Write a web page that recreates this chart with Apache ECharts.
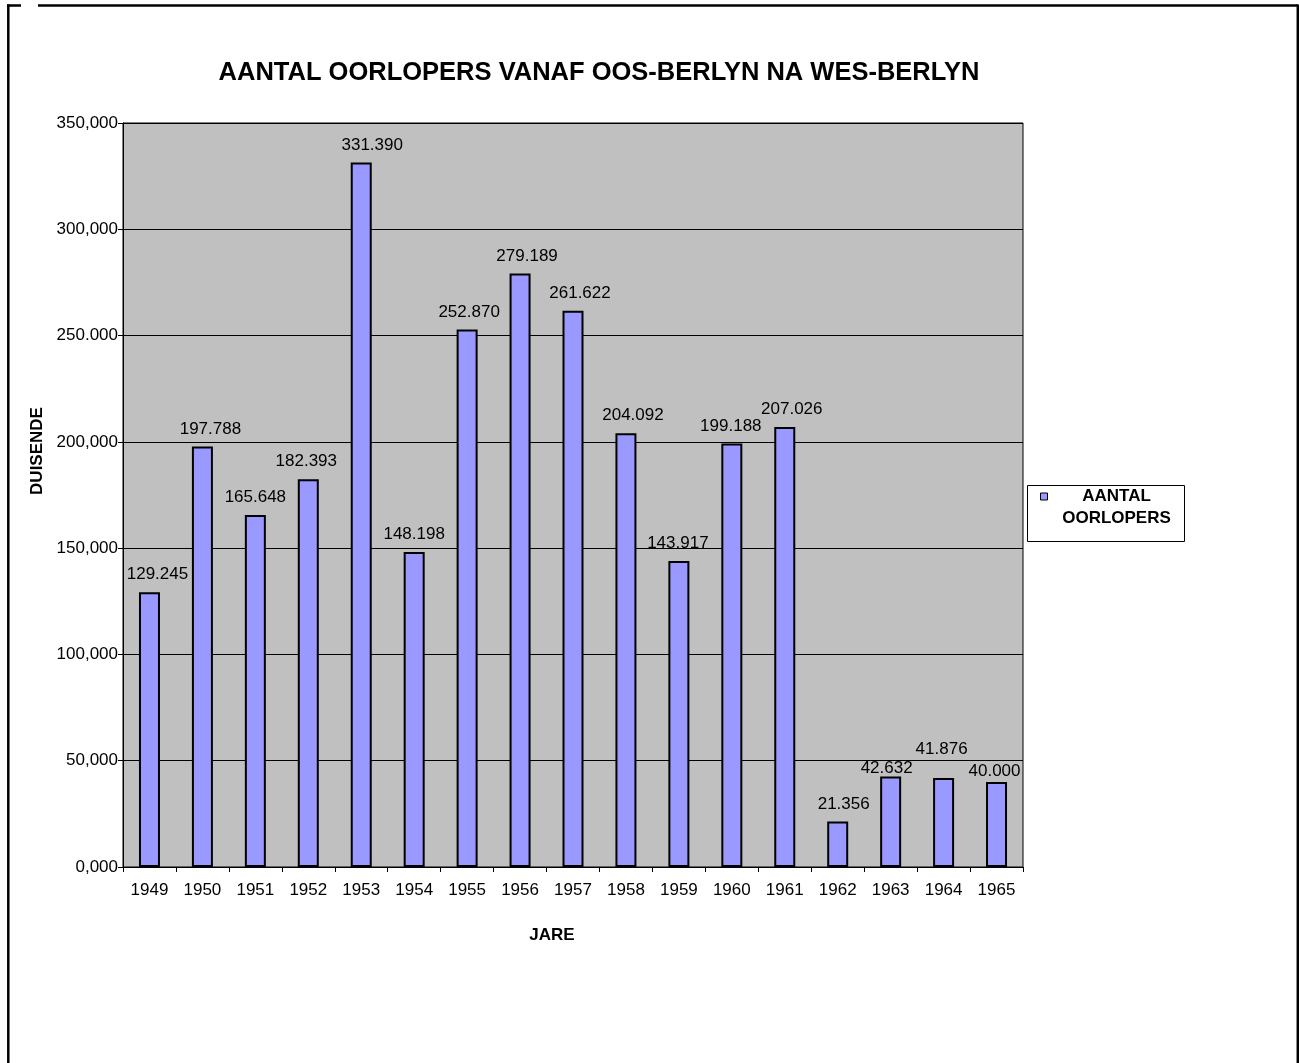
<!DOCTYPE html>
<html>
<head>
<meta charset="utf-8">
<script src="https://cdn.jsdelivr.net/npm/echarts@6/dist/echarts.min.js"></script>
<style>
  html, body { margin: 0; padding: 0; background: #fff; }
  #chart { width: 1299px; height: 1063px; }
</style>
</head>
<body>
<div id="chart"></div>
<script>
// Data
const years = ['1949', '1950', '1951', '1952', '1953', '1954', '1955', '1956', '1957',
    '1958', '1959', '1960', '1961', '1962', '1963', '1964', '1965'];
const defectors = [129245, 197788, 165648, 182393, 331390, 148198, 252870, 279189, 261622,
    204092, 143917, 199188, 207026, 21356, 42632, 41876, 40000];
const yTickLabels = ['0,000', '50,000', '100,000', '150,000', '200,000', '250.000', '300,000', '350,000'];

// Excel labels were nudged by hand, [dx, dy] in px
const labelShift = [[8, 0], [8, 0], [0, 0], [-2, 0], [11, 0], [0, 0], [2, 0], [7, 0], [7, 0],
    [7, 0], [-1, 0], [-1, 0], [7, 0], [6, 0], [-4, 9], [-2, -11], [-2, 7]];

const FONT = '"Liberation Sans", Arial, sans-serif';

function fmtThousands(v) {
    let hi = Math.floor(v / 1000);
    let lo = String(v % 1000).padStart(3, '0');
    return hi + '.' + lo;
}

const chart = echarts.init(document.getElementById('chart'));

let option = {
    backgroundColor: '#fff',
    animation: false,
    textStyle: { fontFamily: FONT },
    title: {
        text: 'AANTAL OORLOPERS VANAF OOS-BERLYN NA WES-BERLYN',
        left: 594,
        top: 55,
        textAlign: 'center',
        textStyle: { fontFamily: FONT, fontSize: 25.5, fontWeight: 'bold', color: '#000' },
    },
    grid: {
        left: 123,
        right: 276,
        top: 123,
        bottom: 196,
        show: true,
        backgroundColor: '#C0C0C0',
        borderColor: '#000',
        borderWidth: 1,
    },
    legend: {
        left: 1040,
        top: 488,
        padding: 0,
        icon: 'rect',
        itemWidth: 7,
        itemHeight: 7,
        itemStyle: { color: '#9999FF', borderColor: '#000', borderWidth: 1 },
        formatter: function () {
            return '{a|AANTAL}\n{a|OORLOPERS}';
        },
        textStyle: {
            padding: [22, 0, 0, 0],
            rich: {
                a: {
                    width: 128,
                    align: 'center',
                    fontFamily: FONT,
                    fontSize: 17,
                    fontWeight: 'bold',
                    lineHeight: 22,
                    color: '#000',
                },
            },
        },
    },
    xAxis: {
        type: 'category',
        data: years,
        name: 'JARE',
        nameLocation: 'middle',
        nameGap: 60,
        nameTextStyle: { fontFamily: FONT, fontSize: 17, fontWeight: 'bold', color: '#000', padding: [0, 42, 0, 0] },
        axisLine: { lineStyle: { color: '#000', width: 1 } },
        axisTick: { show: true, length: 5, lineStyle: { color: '#000' } },
        axisLabel: { margin: 15, fontFamily: FONT, fontSize: 17, color: '#000' },
        splitLine: { show: false },
    },
    yAxis: {
        type: 'value',
        min: 0,
        max: 350000,
        interval: 50000,
        name: 'DUISENDE',
        nameLocation: 'middle',
        nameGap: 74,
        nameTextStyle: { fontFamily: FONT, fontSize: 17, fontWeight: 'bold', color: '#000', padding: [0, 0, 0, 88] },
        axisLine: { show: true, lineStyle: { color: '#000', width: 1 } },
        axisTick: { show: true, length: 5, lineStyle: { color: '#000' } },
        axisLabel: {
            margin: 5,
            fontFamily: FONT,
            fontSize: 17,
            color: '#000',
            formatter: function (v) {
                return yTickLabels[Math.round(v / 50000)];
            },
        },
        splitLine: { show: true, lineStyle: { color: '#000', width: 1 } },
    },
    series: [{
        name: 'AANTAL OORLOPERS',
        type: 'bar',
        barWidth: 21,
        data: defectors.map((v, i) => ({
            value: v,
            label: { offset: labelShift[i] },
        })),
        itemStyle: { color: '#9999FF', borderColor: '#000', borderWidth: 2 },
        label: {
            show: true,
            position: 'top',
            distance: 9,
            fontFamily: FONT,
            fontSize: 17,
            color: '#000',
            formatter: function (p) {
                return fmtThousands(p.value);
            },
        },
    }],
    graphic: [
        // outer frame of the sheet object
        { type: 'line', shape: { x1: 7, y1: 5.5, x2: 21, y2: 5.5 }, style: { stroke: '#000', lineWidth: 2.5 } },
        { type: 'line', shape: { x1: 38, y1: 5.5, x2: 1298, y2: 5.5 }, style: { stroke: '#000', lineWidth: 2.5 } },
        { type: 'line', shape: { x1: 8.3, y1: 4.5, x2: 8.3, y2: 1063 }, style: { stroke: '#000', lineWidth: 2.5 } },
        { type: 'line', shape: { x1: 1297.8, y1: 4.5, x2: 1297.8, y2: 1063 }, style: { stroke: '#000', lineWidth: 2.5 } },
        // legend box
        { type: 'rect', shape: { x: 1027.5, y: 485.5, width: 157, height: 56 }, style: { fill: null, stroke: '#000', lineWidth: 1 }, z: 10 },
    ],
};

chart.setOption(option);
</script>
</body>
</html>
